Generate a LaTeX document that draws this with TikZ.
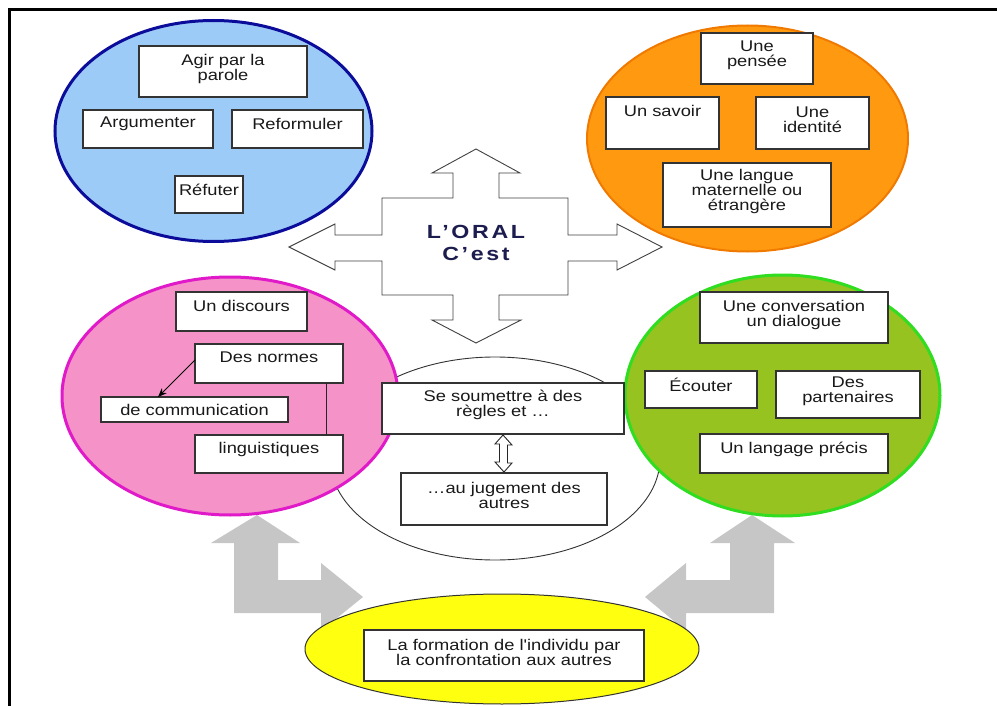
\documentclass[tikz,border=0pt]{standalone}
\usepackage{fontspec}
\setmainfont{Liberation Sans}
\newfontfamily\bxfont[FakeStretch=1.18]{Liberation Sans}
\newfontfamily\oralfont[FakeStretch=1.22,LetterSpace=14]{Liberation Sans}
\usetikzlibrary{shapes.geometric,arrows.meta,calc}
\definecolor{bluefill}{HTML}{9DCBF7}
\definecolor{blueline}{HTML}{0C0C9A}
\definecolor{orangefill}{HTML}{FF9A10}
\definecolor{orangeline}{HTML}{F07A00}
\definecolor{pinkfill}{HTML}{F592C8}
\definecolor{pinkline}{HTML}{E01AC8}
\definecolor{greenfill}{HTML}{96C320}
\definecolor{greenline}{HTML}{30DD20}
\definecolor{yellowfill}{HTML}{FFFF10}
\definecolor{grayarrow}{HTML}{C6C6C6}
\definecolor{navy}{HTML}{1C1C4E}
\newcommand\diabox[7]{%
  \node[tb, minimum width={(#4)-(#2)}, minimum height={(#5)-(#3)}] (#1) at ({((#2)+(#4))/2},{((#3)+(#5))/2}) {};
  \node[tx] (#1-t) at ({((#2)+(#4))/2},#6) {#7};}
\begin{document}
\begin{tikzpicture}[x=1pt,y=-1pt,
  tb/.style={draw=black!80, line width=1.1pt, fill=white, inner sep=0pt, outer sep=0pt},
  tx/.style={align=center, inner sep=0pt, font=\bxfont\fontsize{15.5}{15}\selectfont, text=black!90},
  circ/.style={ellipse, inner sep=0pt, outer sep=0pt},
  gray arrow/.style={fill=grayarrow, draw=none},
  cross/.style={draw=black!75, line width=0.9pt, fill=white, line join=miter}]
\useasboundingbox (0,0) rectangle (997,706);
% frame
\draw[line width=3pt, line join=miter] (997,9.5) -- (9.5,9.5) -- (9.5,706);
% grey arrows
\path[gray arrow] (257,515) -- (300,543) -- (278,543) -- (278,580) -- (321,580) -- (321,563) -- (363,597) -- (321,631) -- (321,613) -- (234,613) -- (234,543) -- (211,543) -- cycle;
\path[gray arrow] (752,515) -- (795,543) -- (774,543) -- (774,613) -- (686,613) -- (686,631) -- (645,597) -- (686,563) -- (686,580) -- (730,580) -- (730,543) -- (710,543) -- cycle;
% central white ellipse
\node[circ, draw=black!80, line width=0.9pt, fill=white, minimum width=330pt, minimum height=203pt] (mid) at (495,458.5) {};
% circles
\node[circ, draw=blueline, fill=bluefill, line width=3pt, minimum width=317pt, minimum height=221pt] (blue) at (213.5,131) {};
\node[circ, draw=orangeline, fill=orangefill, line width=2pt, minimum width=321pt, minimum height=226pt] (orange) at (747.5,138.5) {};
\node[circ, draw=pinkline, fill=pinkfill, line width=3pt, minimum width=336pt, minimum height=238pt] (pink) at (230,396) {};
\node[circ, draw=greenline, fill=greenfill, line width=3pt, minimum width=315pt, minimum height=241pt] (green) at (782.5,395.5) {};
\node[circ, draw=black!80, fill=yellowfill, line width=1pt, minimum width=394pt, minimum height=110pt] (yellow) at (502,649) {};
% central cross arrow
\draw[cross] (476,149) -- (520,173) -- (499,173) -- (499,198) -- (568,198) -- (568,235) -- (617,235) -- (617,224) -- (662,247) -- (617,270) -- (617,261) -- (568,261) -- (568,295) -- (499,295) -- (499,320) -- (521,320) -- (476,343) -- (432,320) -- (453,320) -- (453,295) -- (382,295) -- (382,261) -- (335,261) -- (335,270) -- (289,247) -- (335,224) -- (335,235) -- (382,235) -- (382,198) -- (453,198) -- (453,173) -- (432,173) -- cycle;
\node[align=center, inner sep=0pt, text=navy, font=\oralfont\bfseries\fontsize{19}{22}\selectfont] (oral) at (476,243) {L’ORAL\\C’est};
% blue boxes
\diabox{agir}{139}{46}{307}{97}{69}{Agir par la\\parole}
\diabox{argu}{83}{110}{213}{148}{124}{Argumenter}
\diabox{refo}{232}{110}{363}{148}{124}{Reformuler}
\diabox{refu}{175}{176}{243}{213}{190}{Réfuter}
% orange boxes
\diabox{pens}{701}{33}{813}{84}{55}{Une\\pensée}
\diabox{savo}{606}{97}{719}{149}{111}{Un savoir}
\diabox{iden}{756}{97}{869}{149}{120}{Une\\identité}
\diabox{lang}{663}{163}{831}{227}{191}{Une langue\\maternelle ou\\étrangère}
% pink boxes
\diabox{disc}{176}{292}{307}{331}{306}{Un discours}
\diabox{norm}{195}{344}{343}{383}{357}{Des normes}
\diabox{comm}{101}{397}{288}{422}{410}{de communication}
\diabox{ling}{195}{435}{343}{473}{449}{linguistiques}
\draw[line width=0.9pt, black!85] ($(norm.south east)+(-17,0)$) -- ($(ling.north east)+(-17,0)$);
\draw[line width=0.8pt, -{Stealth[length=9pt,width=7pt]}] ($(norm.north west)+(0,16)$) -- ($(comm.north west)+(57,0)$);
% centre boxes
\diabox{soum}{382}{383}{624}{434}{405}{Se soumettre à des\\règles et …}
\diabox{juge}{401}{473}{607}{525}{495}{…au jugement des\\autres}
\draw[line width=0.9pt, black!85, fill=white] ($(soum.south)+(0,1)$) coordinate (da) -- ++(9,10) -- ++(-4.5,0) -- ++(0,18) -- ++(4.5,0) -- ($(juge.north)+(0,-1)$) coordinate (db) -- ++(-9,-10) -- ++(4.5,0) -- ++(0,-18) -- ++(-4.5,0) -- cycle;
% green boxes
\diabox{conv}{700}{292}{888}{343}{315}{Une conversation\\un dialogue}
\diabox{ecou}{645}{371}{757}{408}{385}{Écouter}
\diabox{part}{776}{371}{920}{418}{391}{Des\\partenaires}
\diabox{lgpr}{700}{434}{888}{473}{449}{Un langage précis}
% yellow box
\diabox{form}{364}{630}{644}{681}{652}{La formation de l'individu par\\la confrontation aux autres}
\end{tikzpicture}
\end{document}
